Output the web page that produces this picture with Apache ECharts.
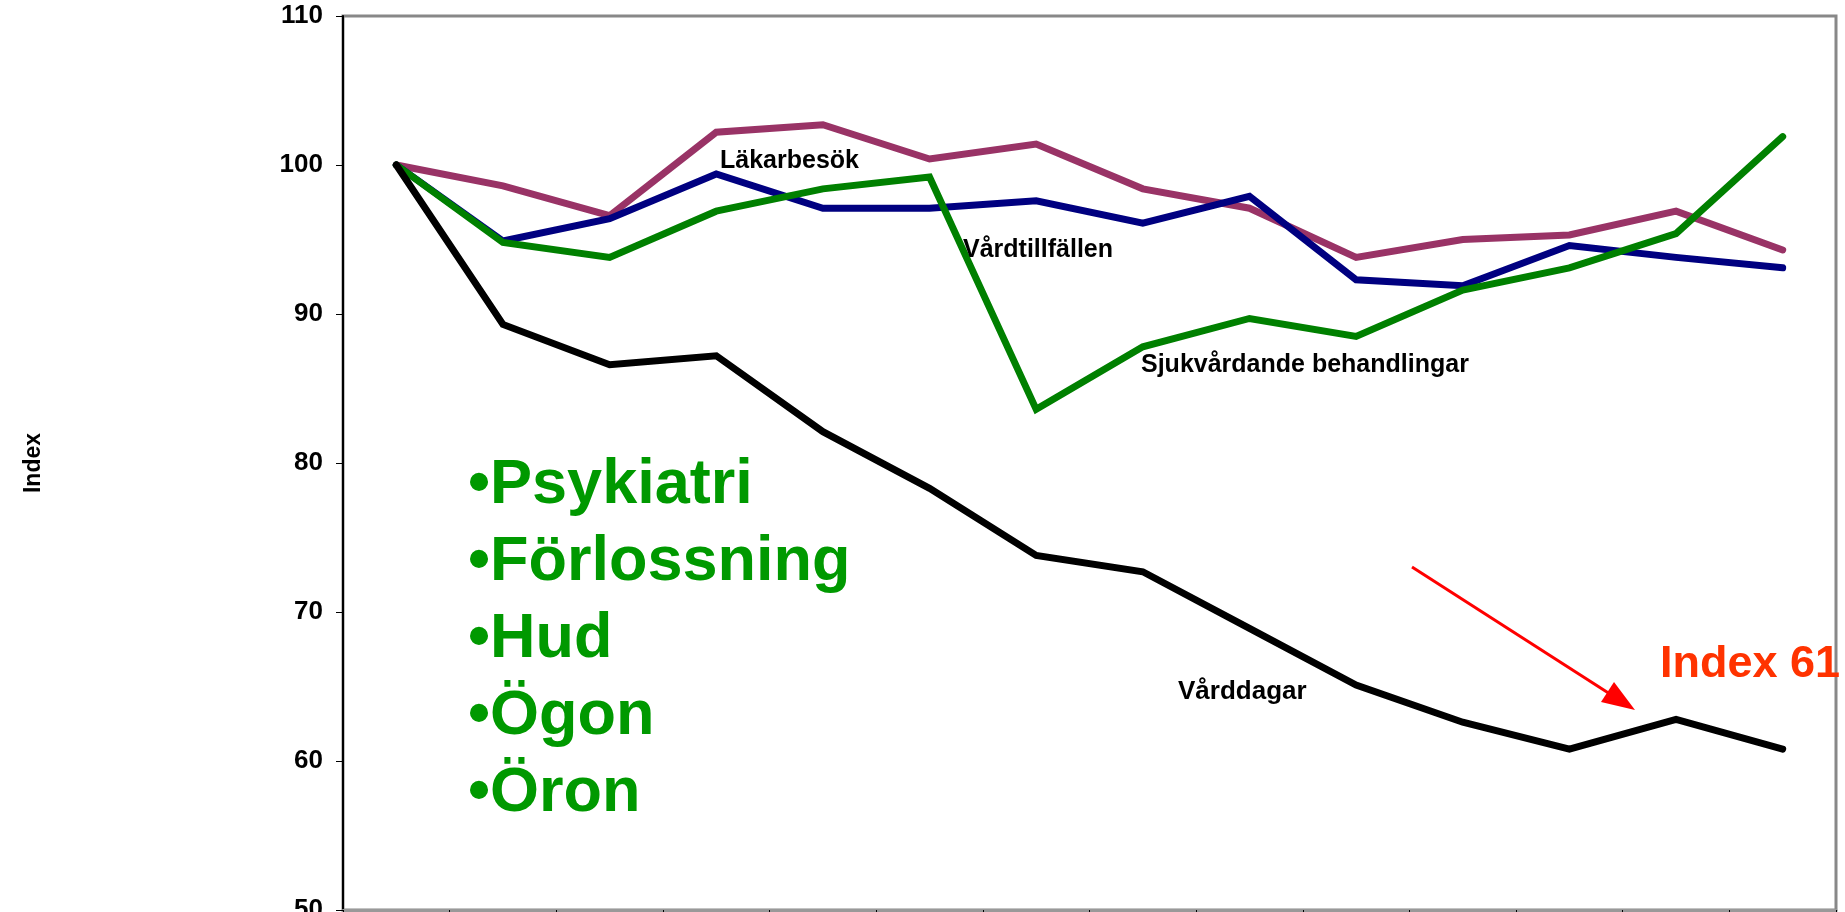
<!DOCTYPE html>
<html>
<head>
<meta charset="utf-8">
<script src="https://cdn.jsdelivr.net/npm/echarts@6/dist/echarts.min.js"></script>
<style>
  html, body { margin: 0; padding: 0; background: #fff; }
  #main { width: 1845px; height: 912px; }
</style>
</head>
<body>
<div id="main"></div>
<script>
// Periods (axis labels are cut off in the original)
const categories = ["1", "2", "3", "4", "5", "6", "7", "8", "9", "10", "11", "12", "13", "14"];

// Index values per series
const lakarbesok = [100, 98.6, 96.6, 102.2, 102.7, 100.4, 101.4, 98.4, 97.1, 93.8, 95.0, 95.3, 96.9, 94.3];
const vardtillfallen = [100, 94.9, 96.4, 99.4, 97.1, 97.1, 97.6, 96.1, 97.9, 92.3, 91.9, 94.6, 93.8, 93.1];
const sjukvardande = [100, 94.8, 93.8, 96.9, 98.4, 99.2, 83.6, 87.8, 89.7, 88.5, 91.6, 93.1, 95.4, 101.9];
const varddagar = [100, 89.3, 86.6, 87.2, 82.1, 78.3, 73.8, 72.7, 68.9, 65.1, 62.6, 60.8, 62.8, 60.8];

const yTicks = [50, 60, 70, 80, 90, 100, 110];

// Green bullet list on the plot
const bulletItems = ["Psykiatri", "Förlossning", "Hud", "Ögon", "Öron"];

const FONT = "Liberation Sans, Arial, sans-serif";

let myChart = echarts.init(document.getElementById("main"));

function lineSeries(name, data, color) {
  return {
    name: name,
    type: "line",
    data: data,
    symbol: "none",
    lineStyle: { color: color, width: 7, cap: "round", join: "miter" },
    z: 3,
  };
}

// Text placed on the plot, vertically centred on y
function label(text, x, y, size, color) {
  return {
    type: "text",
    x: x,
    y: y,
    z: 10,
    style: {
      text: text,
      fill: color || "#000",
      font: "bold " + size + "px " + FONT,
      verticalAlign: "middle",
    },
  };
}

let graphics = [
  label("Läkarbesök", 720, 161, 25),
  label("Vårdtillfällen", 963, 250, 25),
  label("Sjukvårdande behandlingar", 1141, 365, 25),
  label("Vårddagar", 1178, 692, 26),
  label("Index 61", 1660, 665, 45, "#ff3300"),
];
bulletItems.forEach((item, i) => {
  graphics.push(label("•" + item, 468, 486 + i * 77, 63, "#009900"));
});

// red arrow pointing at the last values
graphics.push({
  type: "line",
  z: 10,
  shape: { x1: 1412, y1: 567, x2: 1610, y2: 694 },
  style: { stroke: "#ff0000", lineWidth: 3 },
});
graphics.push({
  type: "polygon",
  z: 10,
  shape: { points: [[1635, 710], [1601, 702], [1614, 682]] },
  style: { fill: "#ff0000" },
});

let options = {
  animation: false,
  grid: {
    left: 343,
    right: 9,
    top: 16,
    bottom: 2,
    outerBoundsMode: "none",
    containLabel: false,
    show: true,
    borderColor: "#888",
    borderWidth: 3,
  },
  xAxis: {
    type: "category",
    data: categories,
    boundaryGap: true,
    axisLine: { lineStyle: { color: "#999", width: 3 } },
    axisTick: { show: true, length: 6, lineStyle: { color: "#000", width: 1 } },
    axisLabel: { show: false },
    splitLine: { show: false },
  },
  yAxis: {
    type: "value",
    min: yTicks[0],
    max: yTicks[yTicks.length - 1],
    interval: 10,
    name: "Index",
    nameLocation: "middle",
    nameGap: 298,
    nameTextStyle: { fontFamily: FONT, fontWeight: "bold", fontSize: 23, color: "#000" },
    axisLine: { show: true, lineStyle: { color: "#000", width: 2 } },
    axisTick: { show: true, length: 7, lineStyle: { color: "#000", width: 1 } },
    axisLabel: {
      fontFamily: FONT,
      fontWeight: "bold",
      fontSize: 26,
      color: "#000",
      margin: 20,
    },
    splitLine: { show: false },
  },
  series: [
    lineSeries("Läkarbesök", lakarbesok, "#993366"),
    lineSeries("Vårdtillfällen", vardtillfallen, "#000080"),
    lineSeries("Sjukvårdande behandlingar", sjukvardande, "#008000"),
    lineSeries("Vårddagar", varddagar, "#000000"),
  ],
  graphic: graphics,
};

myChart.setOption(options);
</script>
</body>
</html>
